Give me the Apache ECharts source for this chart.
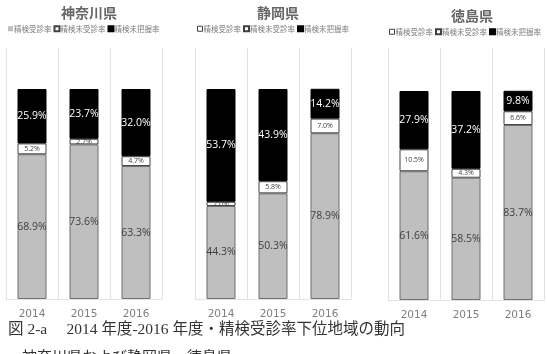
<!DOCTYPE html>
<html>
<head>
<meta charset="utf-8">
<script src="https://cdn.jsdelivr.net/npm/echarts@6/dist/echarts.min.js"></script>
<style>
html,body{margin:0;padding:0;background:#fff;}
#c{width:547px;height:354px;}
</style>
</head>
<body>
<div id="c"></div>
<script>
const years = ['2014', '2015', '2016'];
const prefectures = ['神奈川県', '静岡県', '徳島県'];
const seriesNames = ['精検受診率', '精検未受診率', '精検未把握率'];

const kanagawaJushin = [68.9, 73.6, 63.3];
const kanagawaMijushin = [5.2, 2.7, 4.7];
const kanagawaMihaaku = [25.9, 23.7, 32.0];

const shizuokaJushin = [44.3, 50.3, 78.9];
const shizuokaMijushin = [2.0, 5.8, 7.0];
const shizuokaMihaaku = [53.7, 43.9, 14.2];

const tokushimaJushin = [61.6, 58.5, 83.7];
const tokushimaMijushin = [10.5, 4.3, 6.6];
const tokushimaMihaaku = [27.9, 37.2, 9.8];

const captionLine1 = '図 2-a　 2014 年度-2016 年度・精検受診率下位地域の動向';
const captionLine2 = '神奈川県および静岡県、徳島県';

const panels = [
  { name: prefectures[0], data: [kanagawaJushin, kanagawaMijushin, kanagawaMihaaku],
    left: 6, bottom: 55, max: 119.52, titleX: 84, titleTop: 1, legendLeft: 8, legendTop: 25, firstIconHollow: false },
  { name: prefectures[1], data: [shizuokaJushin, shizuokaMijushin, shizuokaMihaaku],
    left: 195, bottom: 55, max: 119.52, titleX: 273, titleTop: 1, legendLeft: 197, legendTop: 25, firstIconHollow: true },
  { name: prefectures[2], data: [tokushimaJushin, tokushimaMijushin, tokushimaMihaaku],
    left: 388, bottom: 54, max: 120.57, titleX: 467, titleTop: 4, legendLeft: 389, legendTop: 28, firstIconHollow: true }
];

const fills = ['#bfbfbf', '#ffffff', '#000000'];
const borders = ['#6f6f6f', '#404040', '#000000'];
const labelColors = ['#404040', '#404040', '#ffffff'];
const labelSizes = [10.5, 7, 10.5];

const grids = [], xAxes = [], yAxes = [], series = [], titles = [], legends = [];
panels.forEach((p, gi) => {
  grids.push({ left: p.left, width: 156, top: 48, bottom: p.bottom, containLabel: false });
  xAxes.push({
    type: 'category', gridIndex: gi, data: years,
    axisLine: { show: true, lineStyle: { color: '#e3e3e3', width: 1 } },
    axisTick: { show: false },
    splitLine: { show: true, lineStyle: { color: '#e3e3e3', width: 1 } },
    axisLabel: { margin: 10, color: '#7f7f7f', fontSize: 10.5, fontFamily: 'DejaVu Sans' }
  });
  yAxes.push({ type: 'value', gridIndex: gi, min: 0, max: p.max, show: false, splitLine: { show: false } });
  titles.push({
    text: p.name, left: p.titleX, top: p.titleTop, textAlign: 'center',
    textStyle: { fontSize: 14, fontWeight: 'bold', color: '#666666', fontFamily: 'Noto Sans CJK JP' }
  });
  legends.push({
    left: p.legendLeft, top: p.legendTop, itemWidth: 5, itemHeight: 5, itemGap: 2, padding: 0,
    icon: 'rect', selectedMode: false,
    textStyle: { fontSize: 7.5, color: '#7f7f7f', fontFamily: 'Noto Sans CJK JP', padding: [0, 0, 0, -4] },
    data: seriesNames.map((n, i) => {
      const d = { name: n };
      if (i === 0 && p.firstIconHollow) d.itemStyle = { color: '#ffffff', borderColor: '#404040', borderWidth: 1 };
      if (i === 0 && !p.firstIconHollow) d.itemStyle = { color: '#bfbfbf', borderWidth: 0 };
      return d;
    })
  });
  p.data.forEach((vals, si) => {
    series.push({
      name: seriesNames[si], type: 'bar', stack: 'p' + gi,
      xAxisIndex: gi, yAxisIndex: gi, barWidth: 29,
      data: vals,
      itemStyle: { color: fills[si], borderColor: borders[si], borderWidth: 1 },
      label: {
        show: true, position: 'inside', color: labelColors[si], fontSize: labelSizes[si],
        fontFamily: 'Open Sans',
        formatter: (q) => q.value.toFixed(1) + '%'
      },
      emphasis: { disabled: true }
    });
  });
});

const chart = echarts.init(document.getElementById('c'), null, { renderer: 'canvas' });
chart.setOption({
  animation: false,
  backgroundColor: '#ffffff',
  title: titles,
  legend: legends,
  grid: grids,
  xAxis: xAxes,
  yAxis: yAxes,
  series: series,
  graphic: [
    { type: 'text', left: 8, top: 322, style: { text: captionLine1, fontSize: 15.5, fill: '#333333', fontFamily: 'Liberation Serif, Noto Sans CJK JP' } },
    { type: 'text', left: 22, top: 349, style: { text: captionLine2, fontSize: 15, fill: '#333333', fontFamily: 'Noto Sans CJK JP' } }
  ]
});
</script>
</body>
</html>
